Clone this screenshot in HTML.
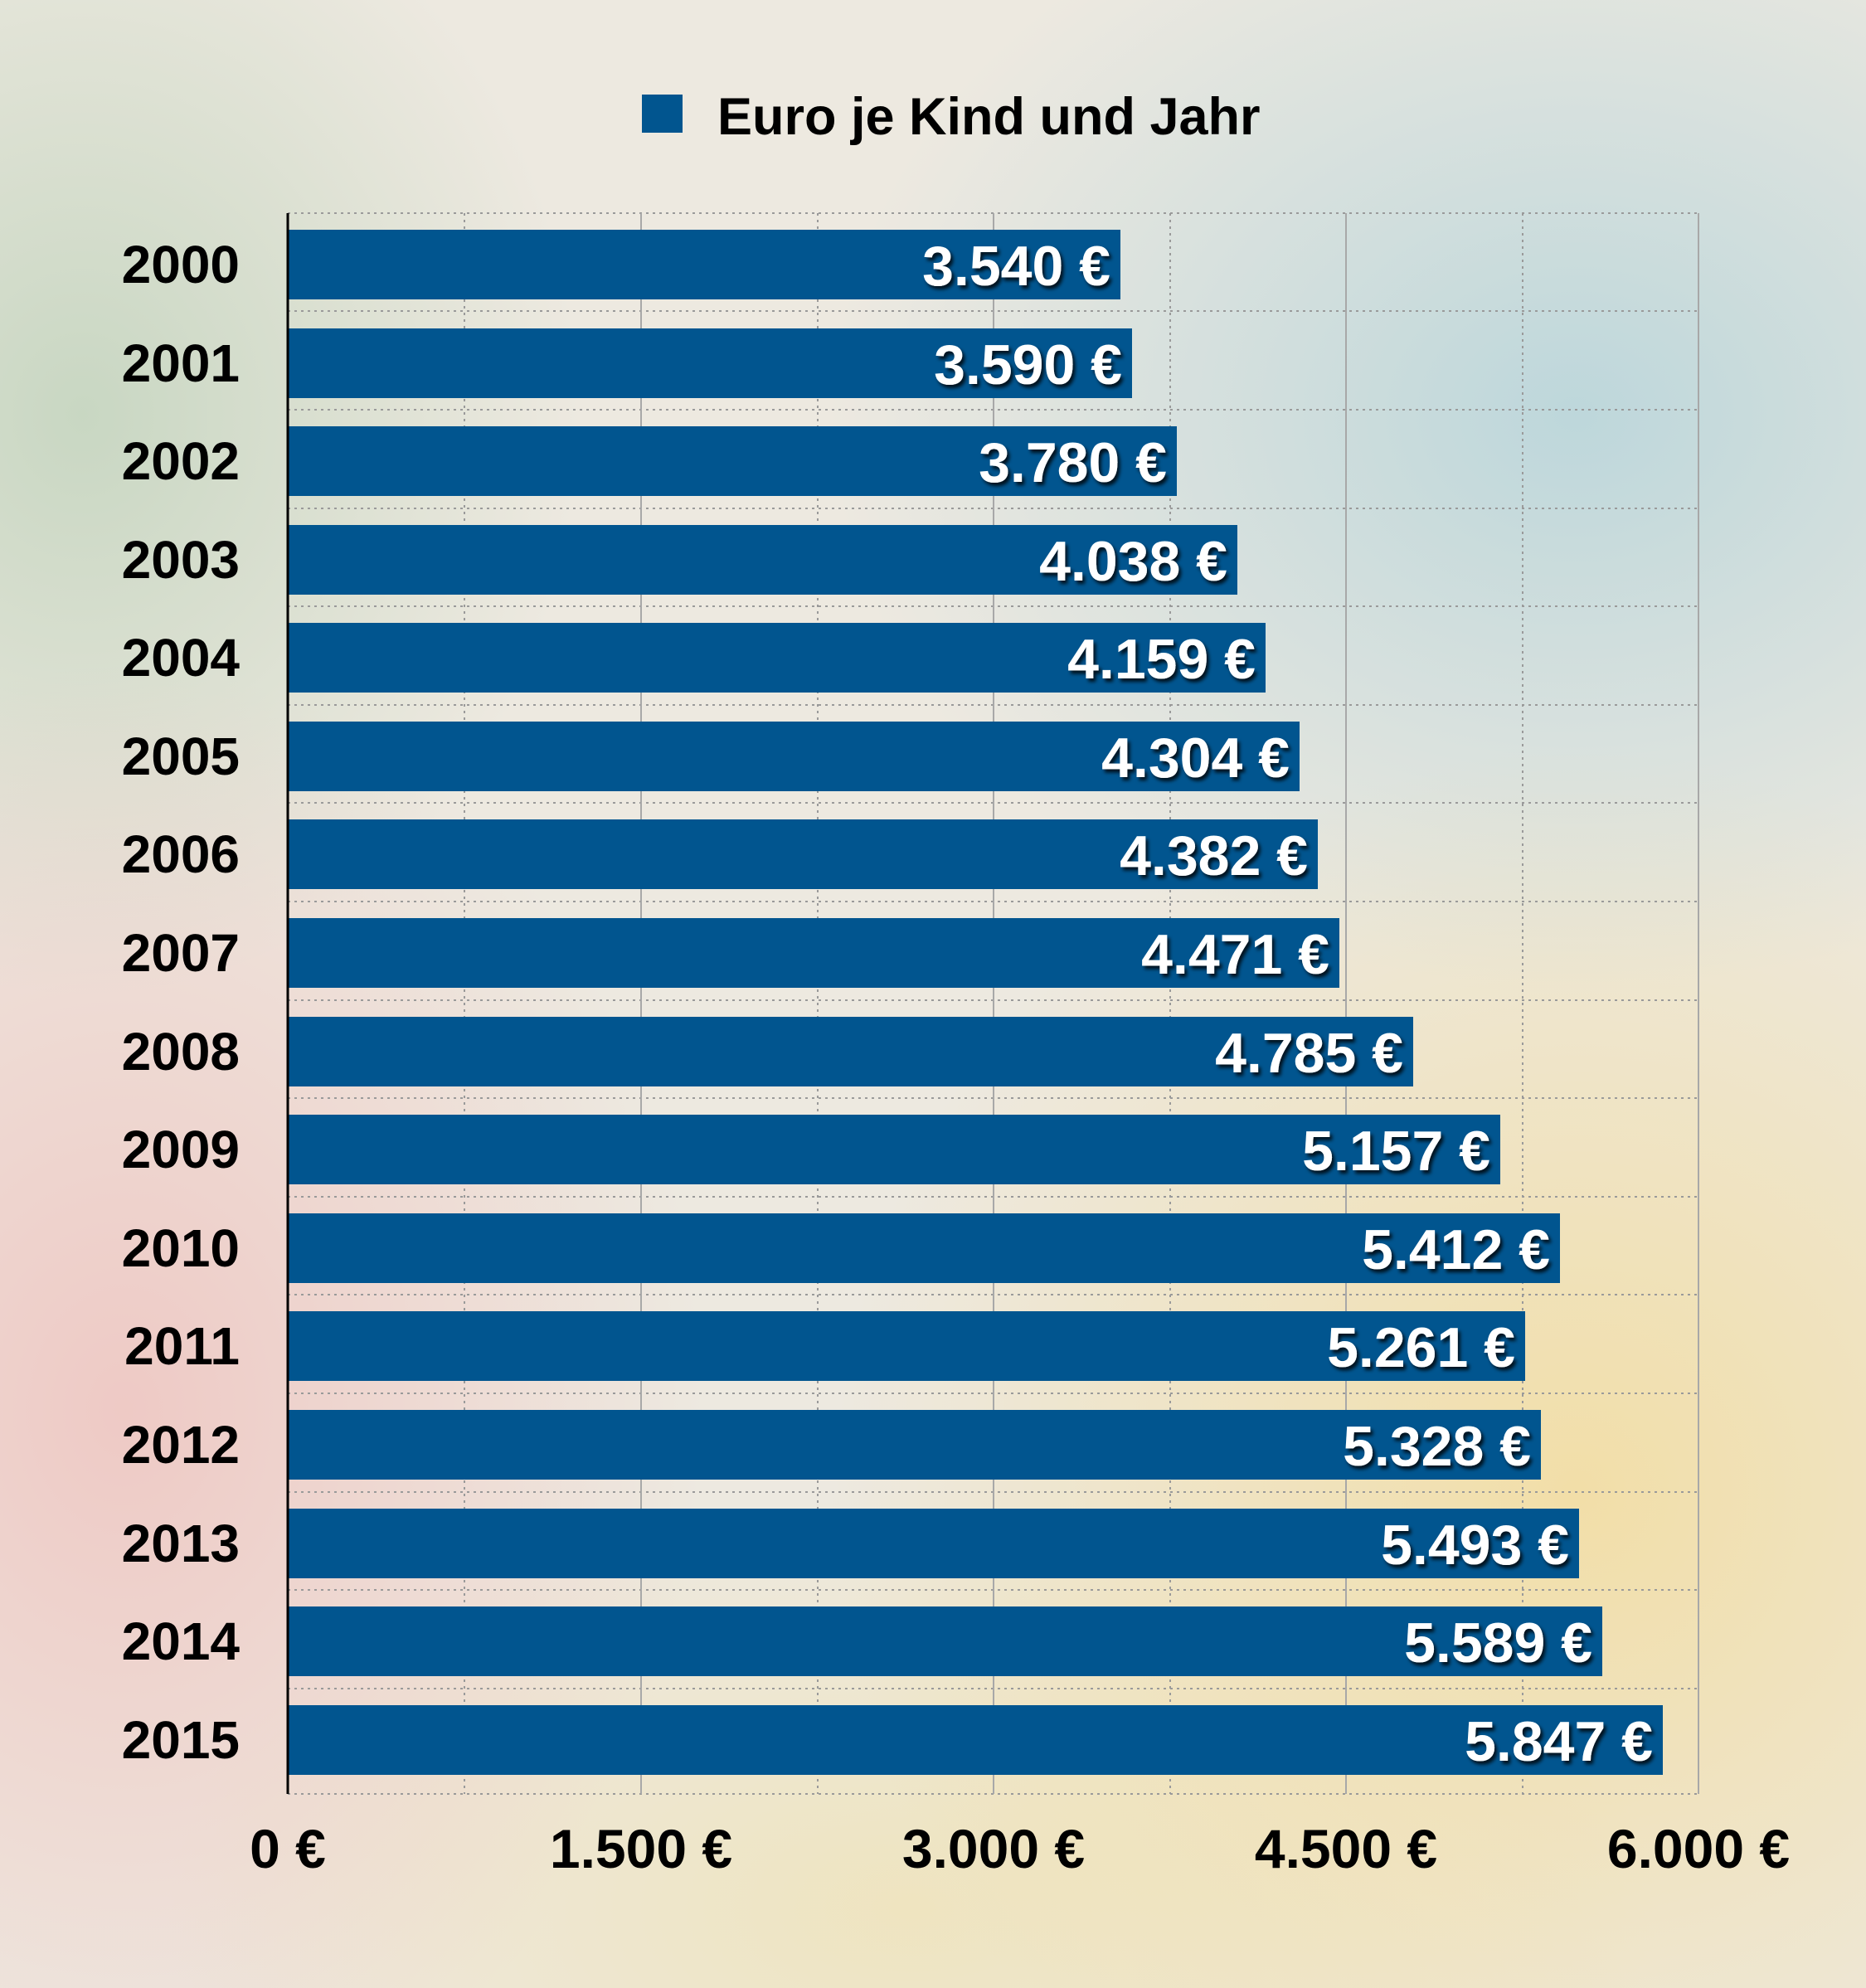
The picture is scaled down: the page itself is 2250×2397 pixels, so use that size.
<!DOCTYPE html>
<html><head><meta charset="utf-8"><style>
html,body{margin:0;padding:0}
body{width:2250px;height:2397px;overflow:hidden;font-family:"Liberation Sans",sans-serif;
background:
radial-gradient(ellipse 900px 700px at 1900px 500px, rgba(150,200,215,0.55), transparent),
radial-gradient(ellipse 900px 900px at 1900px 1800px, rgba(245,215,130,0.6), transparent),
radial-gradient(ellipse 700px 900px at 150px 1700px, rgba(240,170,170,0.5), transparent),
radial-gradient(ellipse 600px 700px at 100px 500px, rgba(170,200,170,0.55), transparent),
radial-gradient(ellipse 900px 500px at 1100px 2300px, rgba(240,225,170,0.6), transparent),
#ede9e0;}
</style></head><body>
<svg width="2250" height="2397" xmlns="http://www.w3.org/2000/svg" style="position:absolute;left:0;top:0">
<defs><filter id="sh" x="-10%" y="-10%" width="130%" height="140%"><feDropShadow dx="3" dy="4" stdDeviation="2" flood-color="#000" flood-opacity="0.8"/></filter></defs>
<g stroke="#9a9a9a" stroke-width="2" stroke-dasharray="3,5" fill="none">
<line x1="347" y1="257" x2="2048" y2="257"/>
<line x1="347" y1="375" x2="2048" y2="375"/><line x1="347" y1="494" x2="2048" y2="494"/>
<line x1="347" y1="613" x2="2048" y2="613"/><line x1="347" y1="731" x2="2048" y2="731"/>
<line x1="347" y1="850" x2="2048" y2="850"/><line x1="347" y1="968" x2="2048" y2="968"/>
<line x1="347" y1="1087" x2="2048" y2="1087"/><line x1="347" y1="1206" x2="2048" y2="1206"/>
<line x1="347" y1="1324" x2="2048" y2="1324"/><line x1="347" y1="1443" x2="2048" y2="1443"/>
<line x1="347" y1="1561" x2="2048" y2="1561"/><line x1="347" y1="1680" x2="2048" y2="1680"/>
<line x1="347" y1="1799" x2="2048" y2="1799"/><line x1="347" y1="1917" x2="2048" y2="1917"/>
<line x1="347" y1="2036" x2="2048" y2="2036"/><line x1="347" y1="2163" x2="2048" y2="2163"/>
<line x1="560" y1="257" x2="560" y2="2163"/><line x1="986" y1="257" x2="986" y2="2163"/>
<line x1="1411" y1="257" x2="1411" y2="2163"/><line x1="1836" y1="257" x2="1836" y2="2163"/>
</g>
<g stroke="#a8a8a8" stroke-width="2">
<line x1="773" y1="257" x2="773" y2="2163"/><line x1="1198" y1="257" x2="1198" y2="2163"/>
<line x1="1623" y1="257" x2="1623" y2="2163"/><line x1="2048" y1="257" x2="2048" y2="2163"/>
</g>
<g fill="#01558f">
<rect x="347" y="277" width="1004" height="84"/>
<rect x="347" y="396" width="1018" height="84"/>
<rect x="347" y="514" width="1072" height="84"/>
<rect x="347" y="633" width="1145" height="84"/>
<rect x="347" y="751" width="1179" height="84"/>
<rect x="347" y="870" width="1220" height="84"/>
<rect x="347" y="988" width="1242" height="84"/>
<rect x="347" y="1107" width="1268" height="84"/>
<rect x="347" y="1226" width="1357" height="84"/>
<rect x="347" y="1344" width="1462" height="84"/>
<rect x="347" y="1463" width="1534" height="84"/>
<rect x="347" y="1581" width="1492" height="84"/>
<rect x="347" y="1700" width="1511" height="84"/>
<rect x="347" y="1819" width="1557" height="84"/>
<rect x="347" y="1937" width="1585" height="84"/>
<rect x="347" y="2056" width="1658" height="84"/>
</g>
<line x1="347" y1="257" x2="347" y2="2163" stroke="#000" stroke-width="3"/>
<g font-weight="bold" font-size="68" fill="#fff" text-anchor="end" filter="url(#sh)">
<text x="1339" y="344">3.540 €</text>
<text x="1353" y="463">3.590 €</text>
<text x="1407" y="581">3.780 €</text>
<text x="1480" y="700">4.038 €</text>
<text x="1514" y="818">4.159 €</text>
<text x="1555" y="937">4.304 €</text>
<text x="1577" y="1055">4.382 €</text>
<text x="1603" y="1174">4.471 €</text>
<text x="1692" y="1293">4.785 €</text>
<text x="1797" y="1411">5.157 €</text>
<text x="1869" y="1530">5.412 €</text>
<text x="1827" y="1648">5.261 €</text>
<text x="1846" y="1767">5.328 €</text>
<text x="1892" y="1886">5.493 €</text>
<text x="1920" y="2004">5.589 €</text>
<text x="1993" y="2123">5.847 €</text>
</g>
<g font-weight="bold" font-size="64" fill="#000" text-anchor="end">
<text x="289" y="341">2000</text><text x="289" y="460">2001</text><text x="289" y="578">2002</text>
<text x="289" y="697">2003</text><text x="289" y="815">2004</text><text x="289" y="934">2005</text>
<text x="289" y="1052">2006</text><text x="289" y="1171">2007</text><text x="289" y="1290">2008</text>
<text x="289" y="1408">2009</text><text x="289" y="1527">2010</text><text x="289" y="1645">2011</text>
<text x="289" y="1764">2012</text><text x="289" y="1883">2013</text><text x="289" y="2001">2014</text>
<text x="289" y="2120">2015</text>
</g>
<g font-weight="bold" font-size="66" fill="#000" text-anchor="middle">
<text x="347" y="2252">0 €</text><text x="773" y="2252">1.500 €</text><text x="1198" y="2252">3.000 €</text>
<text x="1623" y="2252">4.500 €</text><text x="2048" y="2252">6.000 €</text>
</g>
<rect x="774" y="114" width="49" height="46" fill="#01558f"/>
<text x="865" y="162" font-weight="bold" font-size="63" fill="#000">Euro je Kind und Jahr</text>
</svg>
</body></html>
